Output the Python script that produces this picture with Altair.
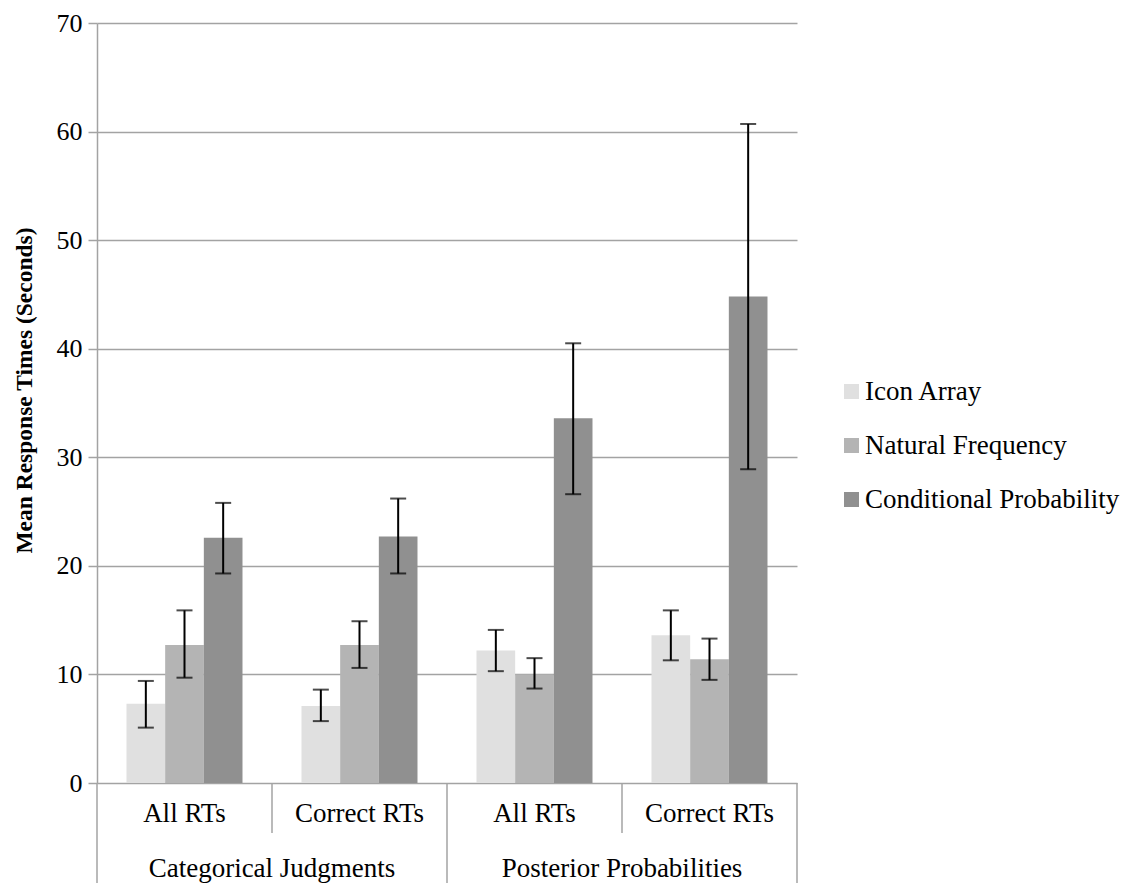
import altair as alt
import pandas as pd

# Category structure along the horizontal axis
groups = ["Categorical Judgments", "Categorical Judgments",
          "Posterior Probabilities", "Posterior Probabilities"]
subsets = ["All RTs", "Correct RTs", "All RTs", "Correct RTs"]
conditions = ["Icon Array", "Natural Frequency", "Conditional Probability"]
bar_colors = ["#e0e0e0", "#b4b4b4", "#909090"]

# Mean response times (seconds) and error-bar bounds, one entry per category
icon_mean = [7.3, 7.1, 12.2, 13.6]
icon_lo = [5.1, 5.7, 10.3, 11.3]
icon_hi = [9.4, 8.6, 14.1, 15.9]

nf_mean = [12.7, 12.7, 10.0, 11.4]
nf_lo = [9.7, 10.6, 8.7, 9.5]
nf_hi = [15.9, 14.9, 11.5, 13.3]

cp_mean = [22.6, 22.7, 33.6, 44.8]
cp_lo = [19.3, 19.3, 26.6, 28.9]
cp_hi = [25.8, 26.2, 40.5, 60.7]

y_ticks = [0, 10, 20, 30, 40, 50, 60, 70]

keys = [f"{g} | {s}" for g, s in zip(groups, subsets)]

rows = []
for cond, means, los, his in zip(
    conditions,
    [icon_mean, nf_mean, cp_mean],
    [icon_lo, nf_lo, cp_lo],
    [icon_hi, nf_hi, cp_hi],
):
    for k, m, lo, hi in zip(keys, means, los, his):
        rows.append({"key": k, "condition": cond, "mean": m, "lo": lo, "hi": hi})
df = pd.DataFrame(rows)

FONT = "Liberation Serif"
GRID = "#a3a3a3"

x_scale = alt.Scale(domain=keys, paddingInner=0, paddingOuter=0)
xo_scale = alt.Scale(domain=conditions, paddingInner=0, paddingOuter=0.763)
y_scale = alt.Scale(domain=[0, 70], nice=False)

x_enc = alt.X("key:N", scale=x_scale, axis=None)
xo_enc = alt.XOffset("condition:N", scale=xo_scale, sort=conditions)

bars = alt.Chart(df).mark_bar(stroke=None).encode(
    x=x_enc,
    xOffset=xo_enc,
    y=alt.Y(
        "mean:Q",
        scale=y_scale,
        title="Mean Response Times (Seconds)",
        axis=alt.Axis(
            values=y_ticks,
            grid=True,
            gridColor=GRID,
            gridWidth=1.5,
            domainColor=GRID,
            domainWidth=1.5,
            tickColor=GRID,
            tickWidth=1.5,
            tickSize=9,
            labelFont=FONT,
            labelFontSize=26,
            labelColor="#000000",
            labelPadding=6,
            titleFont=FONT,
            titleFontSize=23.5,
            titleFontWeight="bold",
            titleColor="#000000",
            titlePadding=20,
            titleY=367,
        ),
    ),
    color=alt.Color(
        "condition:N",
        scale=alt.Scale(domain=conditions, range=bar_colors),
        legend=alt.Legend(
            title=None,
            orient="none",
            legendX=741,
            legendY=355,
            symbolType="square",
            symbolSize=225,
            symbolStrokeWidth=0,
            labelFont=FONT,
            labelFontSize=27,
            labelColor="#000000",
            labelOffset=0,
            rowPadding=26,
            padding=0,
            labelLimit=400,
        ),
    ),
)

whiskers = alt.Chart(df).mark_rule(color="#000000", strokeWidth=2).encode(
    x=x_enc, xOffset=xo_enc, y=alt.Y("lo:Q", scale=y_scale), y2="hi:Q"
)
caps_hi = alt.Chart(df).mark_tick(color="#000000", size=16, thickness=2).encode(
    x=x_enc, xOffset=xo_enc, y=alt.Y("hi:Q", scale=y_scale)
)
caps_lo = alt.Chart(df).mark_tick(color="#000000", size=16, thickness=2).encode(
    x=x_enc, xOffset=xo_enc, y=alt.Y("lo:Q", scale=y_scale)
)

# Hierarchical category axis: subset labels, group labels and divider lines
sub_df = pd.DataFrame({"key": keys, "label": subsets})
group_df = pd.DataFrame({"key": [keys[1], keys[3]], "label": [groups[0], groups[2]]})

sub_labels = alt.Chart(sub_df).mark_text(
    font=FONT, fontSize=27, color="#000000", baseline="middle"
).encode(x=x_enc, y=alt.value(791), text="label:N")

group_labels = alt.Chart(group_df).mark_text(
    font=FONT, fontSize=27, color="#000000", baseline="middle"
).encode(x=alt.X("key:N", scale=x_scale, axis=None, bandPosition=0),
         y=alt.value(846), text="label:N")

short_div = alt.Chart(pd.DataFrame({"key": [keys[1], keys[3]]})).mark_rule(
    color=GRID, strokeWidth=1.5
).encode(x=alt.X("key:N", scale=x_scale, axis=None, bandPosition=0),
         y=alt.value(760), y2=alt.value(810))

long_div = alt.Chart(pd.DataFrame({"key": [keys[0], keys[2]]})).mark_rule(
    color=GRID, strokeWidth=1.5
).encode(x=alt.X("key:N", scale=x_scale, axis=None, bandPosition=0),
         y=alt.value(760), y2=alt.value(862))

end_div = alt.Chart(pd.DataFrame({"key": [keys[3]]})).mark_rule(
    color=GRID, strokeWidth=1.5
).encode(x=alt.X("key:N", scale=x_scale, axis=None, bandPosition=1),
         y=alt.value(760), y2=alt.value(862))

chart = alt.layer(
    bars, whiskers, caps_hi, caps_lo,
    short_div, long_div, end_div, sub_labels, group_labels,
).properties(
    width=700,
    height=760,
    autosize=alt.AutoSizeParams(type="none"),
    padding={"left": 97, "top": 23, "right": 344, "bottom": 100},
    background="#ffffff",
).configure_view(stroke=None)

chart.save("out.html", embed_options={"renderer": "svg", "actions": False})
